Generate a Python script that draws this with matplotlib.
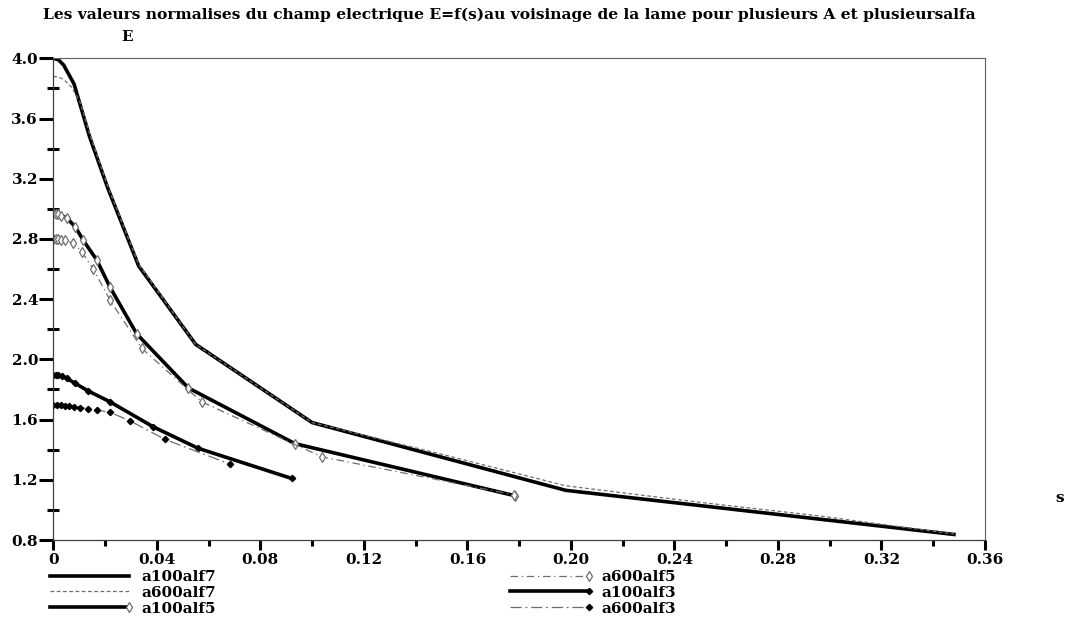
import numpy as np
import matplotlib
matplotlib.use('Agg')
import matplotlib.pyplot as plt
from matplotlib.lines import Line2D
from matplotlib.legend_handler import HandlerLine2D
from matplotlib.ticker import MultipleLocator, FixedFormatter, FixedLocator

# Data
s_a100alf7 = [0, 0.002, 0.004, 0.008, 0.014, 0.021, 0.033, 0.055, 0.100, 0.198, 0.348]
e_a100alf7 = [4.0, 3.99, 3.955, 3.83, 3.48, 3.14, 2.62, 2.10, 1.58, 1.13, 0.837]

s_a600alf7 = [0, 0.002, 0.004, 0.007, 0.0103, 0.014, 0.021, 0.033, 0.055, 0.100, 0.150,
              0.198, 0.250, 0.296, 0.348]
e_a600alf7 = [3.88, 3.875, 3.86, 3.81, 3.71, 3.50, 3.15, 2.63, 2.10, 1.58, 1.37,
              1.16, 1.05, 0.96, 0.84]

s_a100alf5 = [0, 0.001, 0.002, 0.003, 0.0052, 0.0085, 0.0116, 0.0168, 0.0219, 0.0322,
              0.0522, 0.0934, 0.1784]
e_a100alf5 = [2.97, 2.968, 2.963, 2.955, 2.94, 2.88, 2.79, 2.66, 2.48, 2.17,
              1.81, 1.44, 1.094]

s_a600alf5 = [0, 0.001, 0.002, 0.003, 0.0045, 0.0077, 0.011, 0.0155, 0.0219, 0.0342,
              0.0573, 0.1037, 0.178]
e_a600alf5 = [2.80, 2.80, 2.798, 2.795, 2.79, 2.771, 2.715, 2.598, 2.394, 2.073,
              1.718, 1.353, 1.10]

s_a100alf3 = [0, 0.001, 0.002, 0.0035, 0.0052, 0.0085, 0.0135, 0.0219, 0.0386, 0.056, 0.0921]
e_a100alf3 = [1.896, 1.895, 1.893, 1.888, 1.874, 1.84, 1.79, 1.718, 1.552, 1.409, 1.209]

s_a600alf3 = [0, 0.0015, 0.003, 0.0045, 0.006, 0.008, 0.0105, 0.0135, 0.0168, 0.0219,
              0.0296, 0.0432, 0.0683]
e_a600alf3 = [1.696, 1.696, 1.695, 1.693, 1.69, 1.686, 1.68, 1.672, 1.663, 1.648,
              1.592, 1.468, 1.304]

x_ticks = [0, 0.04, 0.08, 0.12, 0.16, 0.20, 0.24, 0.28, 0.32, 0.36]
x_labels = ['0', '0.04', '0.08', '0.12', '0.16', '0.20', '0.24', '0.28', '0.32', '0.36']
y_ticks = [0.8, 1.2, 1.6, 2.0, 2.4, 2.8, 3.2, 3.6, 4.0]
y_labels = ['0.8', '1.2', '1.6', '2.0', '2.4', '2.8', '3.2', '3.6', '4.0']

title = ("Les valeurs normalises du champ electrique E=f(s)au voisinage "
         "de la lame pour plusieurs A et plusieursalfa")

plt.rcParams['font.family'] = 'DejaVu Serif'
plt.rcParams['font.weight'] = 'bold'

W, H = 1069, 621
fig = plt.figure(figsize=(W / 100, H / 100), dpi=100)
ax = fig.add_axes([53.3 / W, 1 - 540 / H, (985 - 53.3) / W, (540 - 58.3) / H])

gray = '#6e6e6e'
thick = 2.6

l1, = ax.plot(s_a100alf7, e_a100alf7, color='black', lw=thick, label='a100alf7')
l2, = ax.plot(s_a600alf7, e_a600alf7, color=gray, lw=0.9, ls=(0, (3, 2)), label='a600alf7')
l3, = ax.plot(s_a100alf5, e_a100alf5, color='black', lw=thick, marker='d', ms=5,
              mfc='white', mec=gray, mew=0.9, label='a100alf5')
l4, = ax.plot(s_a600alf5, e_a600alf5, color=gray, lw=0.9, ls=(0, (6, 3, 1, 3)), marker='d',
              ms=5, mfc='white', mec=gray, mew=0.9, label='a600alf5')
l5, = ax.plot(s_a100alf3, e_a100alf3, color='black', lw=thick, marker='D', ms=3.2,
              mfc='black', mec='black', label='a100alf3')
l6, = ax.plot(s_a600alf3, e_a600alf3, color=gray, lw=0.9, ls=(0, (9, 3, 1.5, 3)), marker='D',
              ms=3.2, mfc='black', mec='black', label='a600alf3')

ax.set_xlim(0, 0.36)
ax.set_ylim(0.8, 4.0)
ax.xaxis.set_major_locator(FixedLocator(x_ticks))
ax.xaxis.set_major_formatter(FixedFormatter(x_labels))
ax.yaxis.set_major_locator(FixedLocator(y_ticks))
ax.yaxis.set_major_formatter(FixedFormatter(y_labels))
ax.xaxis.set_minor_locator(MultipleLocator(0.02))
ax.yaxis.set_minor_locator(MultipleLocator(0.2))

ax.tick_params(axis='both', which='major', direction='out', width=2.2, color='black',
               labelsize=11)
ax.tick_params(axis='y', which='major', length=10, pad=1)
ax.tick_params(axis='y', which='minor', direction='inout', length=8, width=2.2)
ax.tick_params(axis='x', which='major', length=7.5, pad=2)
ax.tick_params(axis='x', which='minor', length=4, width=2.2)

for side in ['top', 'right']:
    ax.spines[side].set_color('#606060')
    ax.spines[side].set_linewidth(0.8)
for side in ['left', 'bottom']:
    ax.spines[side].set_color('#404040')
    ax.spines[side].set_linewidth(0.9)

fig.text(43 / W, 1 - 15 / H, title, fontsize=11.15, va='center', ha='left')
fig.text(127 / W, 1 - 37 / H, 'E', fontsize=11, va='center', ha='center')
fig.text(1060 / W, 1 - 498 / H, 's', fontsize=11, va='center', ha='center')


# legend entries: line with the marker only at its right end
class EndMarker(HandlerLine2D):
    def create_artists(self, legend, orig_handle, xdescent, ydescent, width, height,
                       fontsize, trans):
        y = (height - ydescent) / 2
        line = Line2D([-xdescent, -xdescent + width], [y, y])
        self.update_prop(line, orig_handle, legend)
        line.set_markevery([1])
        line.set_transform(trans)
        return [line]


leg_kw = dict(frameon=False, fontsize=11, handlelength=5.2, handletextpad=0.8,
              labelspacing=0.12, borderpad=0, borderaxespad=0,
              handler_map={Line2D: EndMarker()})
leg1 = fig.legend(handles=[l1, l2, l3], loc='upper left',
                  bbox_to_anchor=(50 / W, 1 - 570 / H), **leg_kw)
leg2 = fig.legend(handles=[l4, l5, l6], loc='upper left',
                  bbox_to_anchor=(510 / W, 1 - 570 / H), **leg_kw)

fig.savefig('out.png', dpi=100)
